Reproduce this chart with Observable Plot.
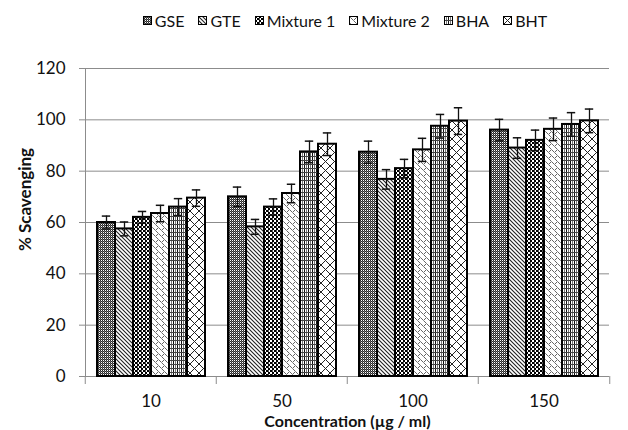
<!DOCTYPE html>
<html>
<head>
<meta charset="utf-8">
<script src="https://cdn.jsdelivr.net/npm/d3@7"></script>
<script src="https://cdn.jsdelivr.net/npm/@observablehq/plot@0.6"></script>
<style>
  html, body { margin: 0; padding: 0; background: #fff; }
  body { width: 628px; height: 430px; overflow: hidden; font-family: Lato, "Liberation Sans", sans-serif; }
  #legend { height: 40px; display: flex; justify-content: center; align-items: center; padding-left: 62px; box-sizing: border-box; font-size: 16px; color: #111; }
  .item { display: flex; align-items: center; margin: 0 7px; }
  .item svg { margin-right: 3px; }
  #chart svg { display: block; }
  g[aria-label="fx-axis label"] text { font-weight: bold; font-size: 16px; }
</style>
</head>
<body>
<svg width="0" height="0" style="position:absolute">
  <defs>
    <pattern id="p0" patternUnits="userSpaceOnUse" width="2" height="2">
      <rect width="2" height="2" fill="#2a2a2a"/>
      <rect width="1" height="1" fill="#ffffff"/>
      <rect x="1" y="1" width="1" height="1" fill="#6a6a6a"/>
    </pattern>
    <pattern id="p1" patternUnits="userSpaceOnUse" width="4" height="4">
      <rect width="4" height="4" fill="#fff"/>
      <path d="M-1,-1L5,5M-1,3L1,5M3,-1L5,1" stroke="#222" stroke-width="1.1"/>
    </pattern>
    <pattern id="p2" patternUnits="userSpaceOnUse" width="4" height="4">
      <rect width="4" height="4" fill="#fff"/>
      <rect width="2" height="2" fill="#000"/>
      <rect x="2" y="2" width="2" height="2" fill="#000"/>
      <rect x="0" y="2" width="1" height="2" fill="#555"/>
    </pattern>
    <pattern id="p3" patternUnits="userSpaceOnUse" width="6" height="6">
      <rect width="6" height="6" fill="#fff"/>
      <path d="M0,3L1.5,1.5L3,3L4.5,4.5L6,3M0,0L1,1M5,5L6,6" stroke="#666" stroke-width="1" fill="none"/>
    </pattern>
    <pattern id="p4" patternUnits="userSpaceOnUse" width="4" height="4">
      <rect width="4" height="4" fill="#fff"/>
      <rect x="0" width="1" height="4" fill="#111"/>
      <rect x="2" width="1" height="4" fill="#777"/>
      <rect y="0" width="4" height="1" fill="#444"/>
    </pattern>
    <pattern id="p5" patternUnits="userSpaceOnUse" width="9" height="9">
      <rect width="9" height="9" fill="#fff"/>
      <path d="M0,0L9,9M9,0L0,9" stroke="#222" stroke-width="1"/>
    </pattern>
  </defs>
</svg>
<div id="legend"></div>
<div id="chart"></div>
<script>
const concentrations = ["10", "50", "100", "150"];
const series = ["GSE", "GTE", "Mixture 1", "Mixture 2", "BHA", "BHT"];
const patternIds = ["p0", "p1", "p2", "p3", "p4", "p5"];
// values per series, in concentration order
const GSE = [60.0, 70.0, 87.4, 96.0];
const GTE = [57.5, 58.3, 76.8, 89.0];
const Mixture1 = [62.0, 66.0, 81.0, 92.0];
const Mixture2 = [63.5, 71.3, 88.3, 96.3];
const BHA = [66.0, 87.5, 97.5, 98.2];
const BHT = [69.5, 90.5, 99.5, 99.6];
// error (SD) per series
const errGSE = [2.5, 3.8, 4.3, 4.2];
const errGTE = [2.7, 2.9, 3.8, 4.0];
const errMixture1 = [2.3, 3.2, 3.6, 4.0];
const errMixture2 = [3.2, 3.6, 4.5, 4.4];
const errBHA = [3.3, 4.2, 4.6, 4.6];
const errBHT = [3.2, 4.4, 5.2, 4.6];
const yTicks = [0, 20, 40, 60, 80, 100, 120];

const valueLists = [GSE, GTE, Mixture1, Mixture2, BHA, BHT];
const errLists = [errGSE, errGTE, errMixture1, errMixture2, errBHA, errBHT];
const data = [];
series.forEach((s, si) => concentrations.forEach((c, ci) => {
  data.push({conc: c, series: s, value: valueLists[si][ci], err: errLists[si][ci]});
}));

// legend
const legend = document.getElementById("legend");
series.forEach((s, i) => {
  const item = document.createElement("div");
  item.className = "item";
  item.innerHTML = `<svg width="9" height="9"><rect x="0.5" y="0.5" width="8" height="8" fill="url(#${patternIds[i]})" stroke="#000" stroke-width="1"/></svg><span>${s}</span>`;
  legend.appendChild(item);
});

const W = 628, ML = 84, MR = 18;
const halfBand = (W - ML - MR) / concentrations.length / 2;

const chart = Plot.plot({
  width: W,
  height: 390,
  marginLeft: ML,
  marginRight: MR,
  marginTop: 28,
  marginBottom: 54,
  style: {fontFamily: "Lato, 'Liberation Sans', sans-serif", fontSize: "17px", color: "#111", background: "white"},
  fx: {domain: concentrations, padding: 0},
  x: {domain: series, paddingInner: 0, paddingOuter: 0.554, axis: null},
  y: {domain: [0, 120]},
  color: {domain: series, range: patternIds.map(id => `url(#${id})`)},
  marks: [
    Plot.gridY(yTicks, {stroke: "#8c8c8c", strokeOpacity: 1, strokeWidth: 1}),
    Plot.ruleY([0], {stroke: "#8c8c8c", strokeWidth: 1}),
    Plot.frame({anchor: "left", facetAnchor: "left", stroke: "#8c8c8c", strokeWidth: 1}),
    Plot.axisY(yTicks, {tickSize: 6, tickPadding: 14, stroke: "#8c8c8c", fill: "#111", label: null}),
    Plot.text([{fx: "10"}], {fx: "fx", text: () => "% Scavenging", frameAnchor: "left", textAnchor: "middle", rotate: -90, dx: -60, dy: -23, fontWeight: "bold", fontSize: 17, fill: "#111"}),
    Plot.axisFx({anchor: "bottom", tickSize: 0, tickPadding: 18, label: "Concentration (µg / ml)", labelAnchor: "center", labelArrow: "none", labelOffset: 50, fill: "#111"}),
    Plot.axisFx({anchor: "bottom", tickSize: 8, text: null, label: null, dx: -halfBand, stroke: "#8c8c8c"}),
    Plot.axisFx({anchor: "bottom", ticks: ["150"], tickSize: 8, text: null, label: null, dx: halfBand, stroke: "#8c8c8c"}),
    Plot.barY(data, {fx: "conc", x: "series", y: "value", fill: "series", stroke: "#000", strokeWidth: 2}),
    Plot.ruleX(data, {fx: "conc", x: "series", y1: d => d.value - d.err, y2: d => d.value + d.err, stroke: "#111", strokeWidth: 1.3}),
    Plot.tickY(data, {fx: "conc", x: "series", y: d => d.value + d.err, insetLeft: 4.8, insetRight: 4.8, stroke: "#111", strokeWidth: 1.5}),
    Plot.tickY(data, {fx: "conc", x: "series", y: d => d.value - d.err, insetLeft: 4.8, insetRight: 4.8, stroke: "#111", strokeWidth: 1.5})
  ]
});
document.getElementById("chart").appendChild(chart);
</script>
</body>
</html>
